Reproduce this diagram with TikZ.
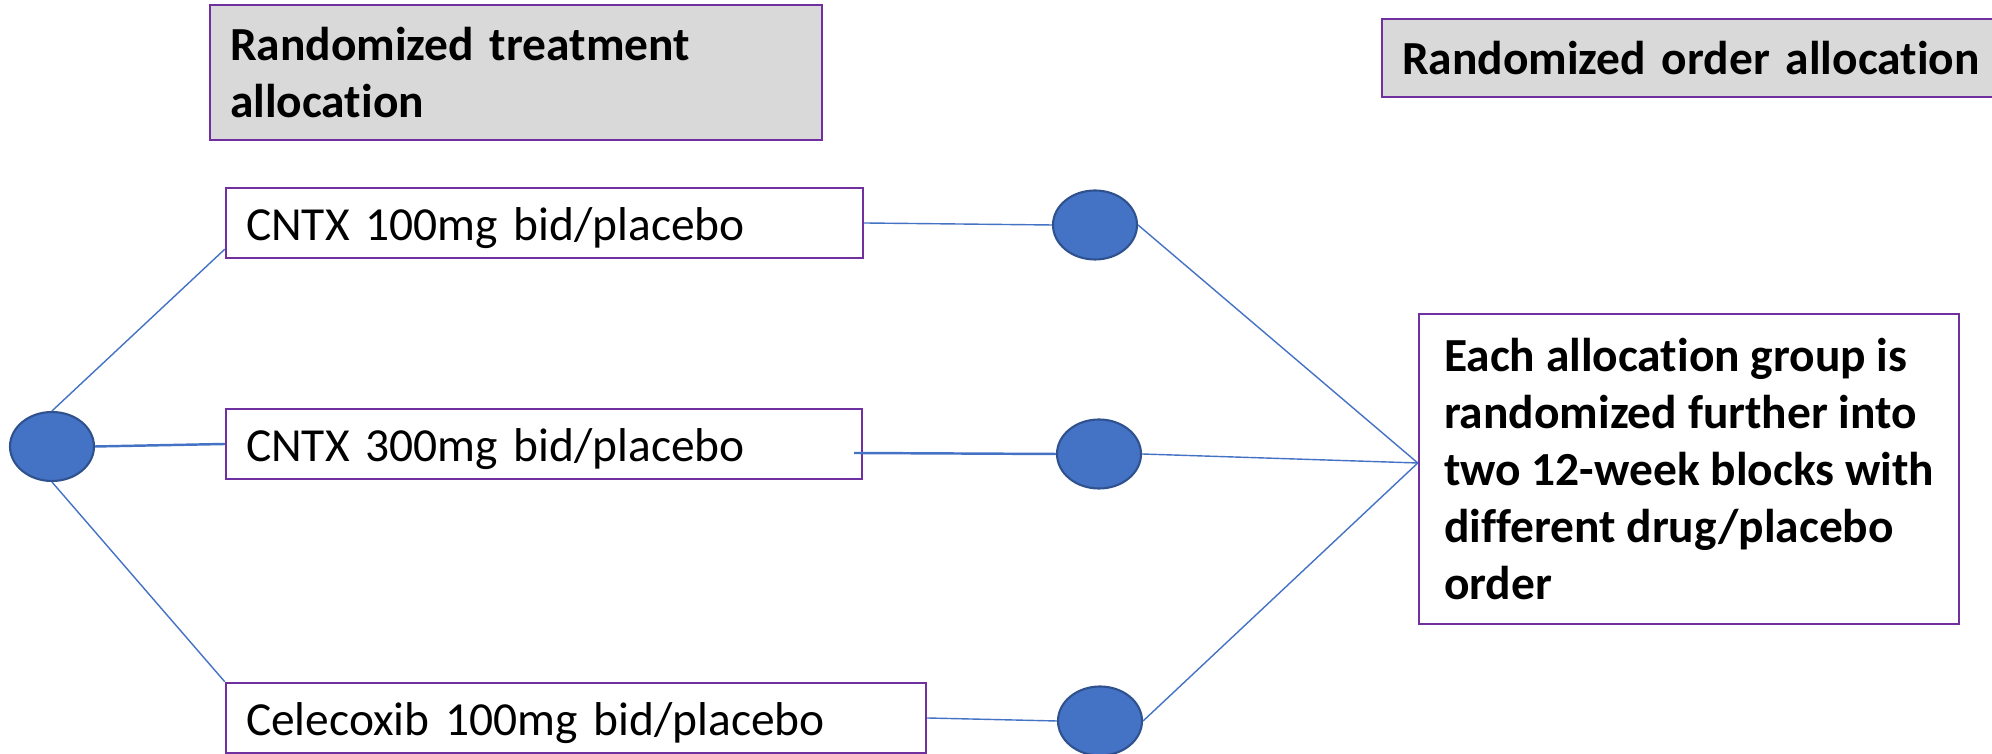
\documentclass[tikz,border=0pt]{standalone}
\usepackage{fontspec}
\setmainfont{Carlito}[Ligatures=NoCommon]
\usepackage{xcolor}
\usepackage{tikz}
\usetikzlibrary{calc,shapes.geometric}
\definecolor{dotblue}{HTML}{4472C4}
\definecolor{dotedge}{HTML}{2F528F}
\definecolor{boxpurple}{HTML}{7030A0}
\definecolor{headgray}{HTML}{D9D9D9}

\begin{document}
\begin{tikzpicture}[
  every node/.style={font=\fontsize{13.5}{16.2}\selectfont},
  armbox/.style={draw=boxpurple, line width=0.7pt, fill=white, align=left, inner xsep=0.2cm, inner ysep=0cm},
  headbox/.style={armbox, fill=headgray, font=\fontsize{13.5}{16.2}\selectfont\bfseries},
  armline/.style={text height=0.53cm, text depth=0.17cm},
  dot/.style={ellipse, draw=dotedge, fill=dotblue, line width=0.6pt, minimum width=0.84cm, minimum height=0.69cm, inner sep=0pt},
  link/.style={draw=dotblue, line width=0.4pt}
]
\useasboundingbox (0,0) rectangle (19.92,7.54);

\node[headbox, text width=5.72cm, minimum height=1.35cm] (treat) at (5.16,6.815) {Randomized treatment\\allocation};
\node[headbox, text width=5.98cm, minimum height=0.78cm] (order) at (17.01,6.96) {Randomized order allocation};

\node[armbox, armline, text width=5.97cm] (arm1) at (5.445,5.31) {CNTX 100mg bid/placebo};
\node[armbox, armline, text width=5.96cm] (arm2) at (5.44,3.10) {CNTX 300mg bid/placebo};
\node[armbox, armline, text width=6.60cm] (arm3) at (5.76,0.36) {Celecoxib 100mg bid/placebo};

\node[armbox, minimum width=5.40cm, minimum height=3.10cm, font=\fontsize{13.5}{16.2}\selectfont\bfseries] (blocks) at (16.89,2.85)
  {Each allocation group is\\randomized further into\\two 12-week blocks with\\different drug/placebo\\order};

\node[dot] (start) at (0.52,3.075) {};
\node[dot] (dot1) at (10.95,5.29) {};
\node[dot] (dot2) at (10.99,3.00) {};
\node[dot] (dot3) at (11.00,0.33) {};

\coordinate (join) at ($(blocks.west)+(0,0.06)$);

\draw[link] (start.north) -- ($(arm1.south west)+(0,0.1)$);
\draw[link, line width=0.7pt] (start.east) -- (arm2.west);
\draw[link] (start.south) -- (arm3.north west);
\draw[link] (arm1.east) -- (dot1.west);
\draw[link, line width=0.7pt] ($(arm2.east)+(-0.09,-0.09)$) -- (dot2.west);
\draw[link] (arm3.east) -- (dot3.west);
\foreach \d in {dot1,dot2,dot3} {
\draw[link] (\d.east) -- (join);
}
\end{tikzpicture}
\end{document}
